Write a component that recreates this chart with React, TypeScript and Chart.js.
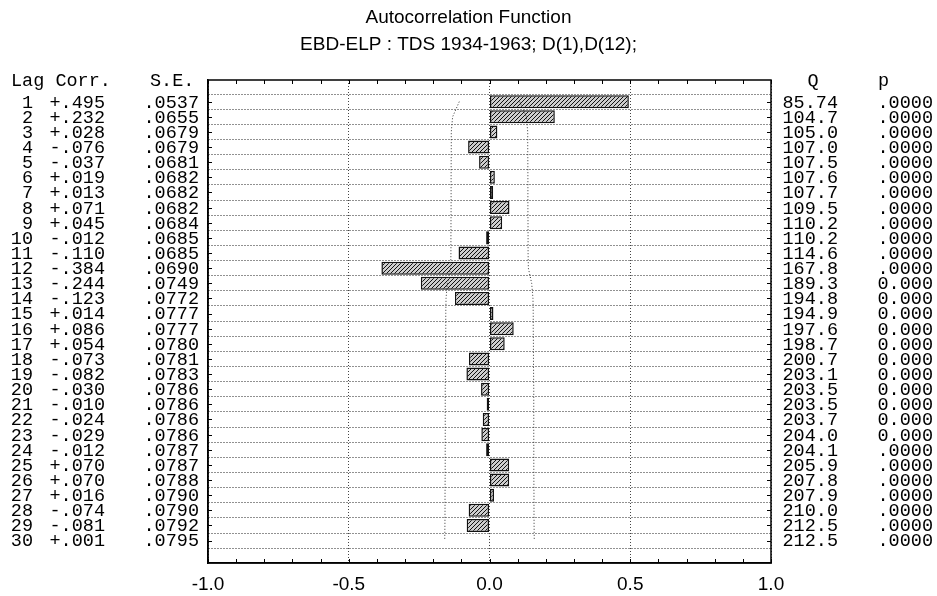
import React, { useEffect, useRef } from "react";
import { Chart, registerables } from "chart.js";

Chart.register(...registerables);

const TITLE = "Autocorrelation Function";
const SUBTITLE = "EBD-ELP : TDS 1934-1963; D(1),D(12);";

const lags = [1, 2, 3, 4, 5, 6, 7, 8, 9, 10, 11, 12, 13, 14, 15, 16, 17, 18, 19, 20, 21, 22, 23, 24, 25, 26, 27, 28, 29, 30];
const corr = [0.495, 0.232, 0.028, -0.076, -0.037, 0.019, 0.013, 0.071, 0.045, -0.012, -0.110, -0.384, -0.244, -0.123, 0.014, 0.086, 0.054, -0.073, -0.082, -0.030, -0.010, -0.024, -0.029, -0.012, 0.070, 0.070, 0.016, -0.074, -0.081, 0.001];
const se = [0.0537, 0.0655, 0.0679, 0.0679, 0.0681, 0.0682, 0.0682, 0.0682, 0.0684, 0.0685, 0.0685, 0.0690, 0.0749, 0.0772, 0.0777, 0.0777, 0.0780, 0.0781, 0.0783, 0.0786, 0.0786, 0.0786, 0.0786, 0.0787, 0.0787, 0.0788, 0.0790, 0.0790, 0.0792, 0.0795];
const qStat = [85.74, 104.7, 105.0, 107.0, 107.5, 107.6, 107.7, 109.5, 110.2, 110.2, 114.6, 167.8, 189.3, 194.8, 194.9, 197.6, 198.7, 200.7, 203.1, 203.5, 203.5, 203.7, 204.0, 204.1, 205.9, 207.8, 207.9, 210.0, 212.5, 212.5];
const pLabels = [".0000", ".0000", ".0000", ".0000", ".0000", ".0000", ".0000", ".0000", ".0000", ".0000", ".0000", ".0000", "0.000", "0.000", "0.000", "0.000", "0.000", "0.000", "0.000", "0.000", "0.000", "0.000", "0.000", ".0000", ".0000", ".0000", ".0000", ".0000", ".0000", ".0000"];
const xTicks = [-1, -0.5, 0, 0.5, 1];

const fmtCorr = (v: number) => (v >= 0 ? "+" : "-") + Math.abs(v).toFixed(3).slice(1);
const fmtSe = (v: number) => v.toFixed(4).slice(1);
const fmtQ = (v: number) => v.toPrecision(4);

function makeHatch(): any {
  const c = document.createElement("canvas");
  c.width = 4;
  c.height = 4;
  const g = c.getContext("2d")!;
  g.fillStyle = "#cdcdcd";
  g.fillRect(0, 0, 4, 4);
  g.strokeStyle = "#111";
  g.lineWidth = 1;
  g.beginPath();
  g.moveTo(0, 4); g.lineTo(4, 0);
  g.moveTo(-1, 1); g.lineTo(1, -1);
  g.moveTo(3, 5); g.lineTo(5, 3);
  g.stroke();
  return g.createPattern(c, "repeat");
}

const MONO = '18.5px "Liberation Mono", "Courier New", monospace';
const SANS = '19px "Liberation Sans", Arial, sans-serif';

const tablePlugin = {
  id: "acfTable",
  afterDraw(chart: any) {
    const { ctx, chartArea: a, scales } = chart;
    const xs = scales.x;
    const ys = scales.y;
    ctx.save();
    ctx.setLineDash([]);
    // frame
    ctx.strokeStyle = "#000";
    ctx.lineWidth = 1.5;
    ctx.strokeRect(a.left, a.top, a.right - a.left, a.bottom - a.top);
    // inward tick marks
    ctx.lineWidth = 1;
    ctx.beginPath();
    for (let i = -10; i <= 10; i++) {
      const px = Math.round(xs.getPixelForValue(i / 10)) + 0.5;
      ctx.moveTo(px, a.top); ctx.lineTo(px, a.top + 4);
      ctx.moveTo(px, a.bottom); ctx.lineTo(px, a.bottom - 4);
    }
    lags.forEach((l) => {
      const py = Math.round(ys.getPixelForValue(l)) + 0.5;
      ctx.moveTo(a.left, py); ctx.lineTo(a.left + 4, py);
      ctx.moveTo(a.right, py); ctx.lineTo(a.right - 4, py);
    });
    ctx.stroke();

    // tables
    ctx.fillStyle = "#000";
    ctx.font = MONO;
    ctx.textBaseline = "middle";
    const hy = a.top + 1;
    ctx.textAlign = "left";
    ctx.fillText("Lag Corr.", a.left - 197, hy);
    ctx.fillText("S.E.", a.left - 58, hy);
    ctx.fillText("p", a.right + 107, hy);
    ctx.textAlign = "center";
    ctx.fillText("Q", a.right + 42, hy);
    ctx.textAlign = "right";
    lags.forEach((l, i) => {
      const py = ys.getPixelForValue(l) + 1;
      ctx.fillText(String(l), a.left - 175, py);
      ctx.fillText(fmtCorr(corr[i]), a.left - 103, py);
      ctx.fillText(fmtSe(se[i]), a.left - 9, py);
      ctx.fillText(fmtQ(qStat[i]), a.right + 67, py);
      ctx.fillText(pLabels[i], a.right + 162, py);
    });

    // titles
    ctx.font = SANS;
    ctx.textAlign = "center";
    const cx = chart.width / 2;
    ctx.fillText(TITLE, cx, 18);
    ctx.fillText(SUBTITLE, cx, 45);
    ctx.restore();
  },
};

export default function App() {
  const ref = useRef<HTMLCanvasElement>(null);
  useEffect(() => {
    if (!ref.current) return;
    const hatch = makeHatch();
    const upper = lags.map((l, i) => ({ x: 2 * se[i], y: l }));
    const lower = lags.map((l, i) => ({ x: -2 * se[i], y: l }));
    const chart = new Chart(ref.current, {
      type: "bar",
      data: {
        datasets: [
          {
            type: "bar",
            data: lags.map((l, i) => ({ x: corr[i], y: l })),
            backgroundColor: hatch,
            borderColor: "#111",
            borderWidth: 1.5,
            borderSkipped: false,
            barPercentage: 0.86,
            categoryPercentage: 1,
            order: 2,
          } as any,
          {
            type: "line",
            data: lower,
            borderColor: "#333",
            borderWidth: 1,
            borderDash: [1, 2],
            pointRadius: 0,
            tension: 0,
            fill: false,
            order: 1,
          } as any,
          {
            type: "line",
            data: upper,
            borderColor: "#333",
            borderWidth: 1,
            borderDash: [1, 2],
            pointRadius: 0,
            tension: 0,
            fill: false,
            order: 1,
          } as any,
        ],
      },
      options: {
        indexAxis: "y",
        responsive: false,
        animation: false,
        events: [],
        layout: { padding: { top: 80, right: 166, bottom: 0, left: 0 } },
        plugins: { legend: { display: false }, tooltip: { enabled: false }, title: { display: false } },
        scales: {
          x: {
            type: "linear",
            min: -1,
            max: 1,
            afterBuildTicks: (s: any) => { s.ticks = xTicks.map((v) => ({ value: v })); },
            afterFit: (s: any) => { s.height = 33; },
            ticks: {
              padding: 10,
              color: "#000",
              font: { family: '"Liberation Sans", Arial, sans-serif', size: 19 },
              callback: (v: any) => Number(v).toFixed(1),
            },
            grid: { color: "#444", lineWidth: 1, drawTicks: false },
            border: { display: true, color: "#000", width: 1.5, dash: [1, 2] },
          },
          y: {
            type: "linear",
            reverse: true,
            min: 0.1,
            max: 30.95,
            afterBuildTicks: (s: any) => { s.ticks = lags.map((v) => ({ value: v })); },
            afterFit: (s: any) => { s.width = 208; },
            ticks: { display: false },
            grid: { color: "#222", lineWidth: 1, drawTicks: false },
            border: { display: true, color: "#000", width: 1.5, dash: [1, 2] },
          },
        },
      },
      plugins: [tablePlugin],
    } as any);
    return () => chart.destroy();
  }, []);
  return (
    <div style={{ position: "fixed", left: 0, top: 0, width: 937, height: 596, background: "#fff" }}>
      <canvas ref={ref} width={937} height={596} style={{ display: "block" }} />
    </div>
  );
}
